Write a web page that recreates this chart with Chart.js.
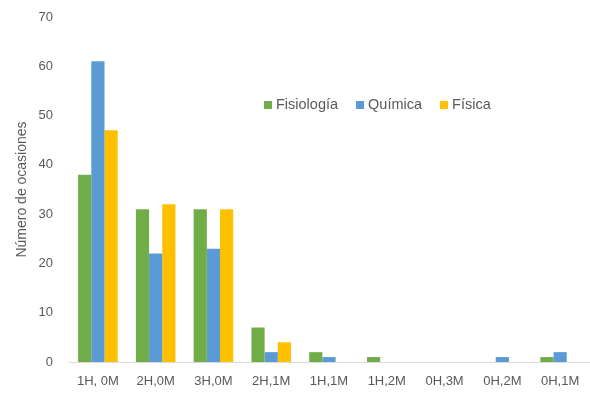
<!DOCTYPE html>
<html>
<head>
<meta charset="utf-8">
<script src="https://cdn.jsdelivr.net/npm/chart.js@4"></script>
<style>
  html, body { margin: 0; padding: 0; background: #fff; }
  #wrap { width: 590px; height: 394px; }
</style>
</head>
<body>
<div id="wrap"><canvas id="chart" width="590" height="394"></canvas></div>
<script>
// categories and series
var categories = ['1H, 0M', '2H,0M', '3H,0M', '2H,1M', '1H,1M', '1H,2M', '0H,3M', '0H,2M', '0H,1M'];
var fisiologia = [38, 31, 31, 7, 2, 1, 0, 0, 1];
var quimica = [61, 22, 23, 2, 1, 0, 0, 1, 2];
var fisica = [47, 32, 31, 4, 0, 0, 0, 0, 0];
var yTicks = [0, 10, 20, 30, 40, 50, 60, 70];

var textColor = '#595959';
var fontFamily = 'Liberation Sans, Arial, sans-serif';

// legend drawn inside the plot area, like the original
var innerLegend = {
    id: 'innerLegend',
    afterDraw: function(chart) {
        var ctx = chart.ctx;
        var x = 264, y = 105;
        ctx.save();
        ctx.font = '14.5px ' + fontFamily;
        ctx.textBaseline = 'middle';
        chart.data.datasets.forEach(function(ds) {
            ctx.fillStyle = ds.backgroundColor;
            ctx.fillRect(x, y - 4, 8, 8);
            ctx.fillStyle = textColor;
            ctx.fillText(ds.label, x + 12, y);
            x += 12 + ctx.measureText(ds.label).width + 18;
        });
        ctx.restore();
    }
};

const ctx = document.getElementById('chart').getContext('2d');
new Chart(ctx, {
    type: 'bar',
    data: {
        labels: categories,
        datasets: [
            { label: 'Fisiología', data: fisiologia, backgroundColor: '#70AD47' },
            { label: 'Química', data: quimica, backgroundColor: '#5B9BD5' },
            { label: 'Física', data: fisica, backgroundColor: '#FFC000' }
        ]
    },
    options: {
        responsive: false,
        animation: false,
        layout: { padding: { left: 0, right: 1, top: 17, bottom: 0 } },
        datasets: {
            bar: { categoryPercentage: 0.685, barPercentage: 1.0 }
        },
        plugins: {
            legend: { display: false },
            tooltip: { enabled: false }
        },
        scales: {
            x: {
                afterFit: function(scale) { scale.height = 32; },
                grid: { display: false },
                border: { color: '#d9d9d9' },
                ticks: { color: textColor, font: { family: fontFamily, size: 13 }, maxRotation: 0, padding: 4 }
            },
            y: {
                min: 0,
                max: 70,
                afterBuildTicks: function(axis) {
                    axis.ticks = yTicks.map(function(v) { return { value: v }; });
                },
                afterFit: function(scale) {
                    scale.width = 69;
                    scale.paddingTop = 0;
                    scale.paddingBottom = 0;
                },
                grid: { display: false, drawTicks: false },
                border: { display: false },
                ticks: { color: textColor, font: { family: fontFamily, size: 13 }, padding: 16 },
                title: {
                    display: true,
                    text: 'Número de ocasiones',
                    color: textColor,
                    font: { family: fontFamily, size: 14 },
                    padding: { top: 14, bottom: 4 }
                }
            }
        }
    },
    plugins: [innerLegend]
});
</script>
</body>
</html>
